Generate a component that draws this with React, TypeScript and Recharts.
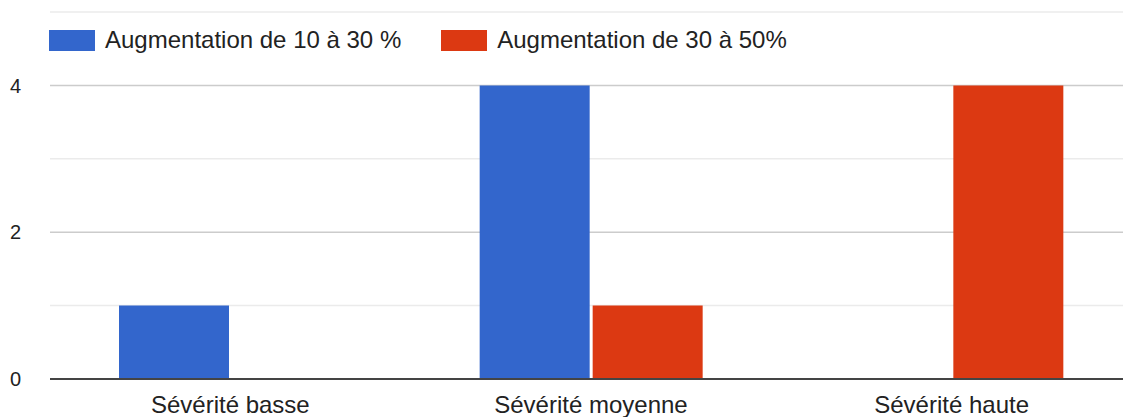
import React from "react";
import { BarChart, Bar, XAxis, YAxis, ReferenceLine, Legend, CartesianGrid } from "recharts";

const categories = ["Sévérité basse", "Sévérité moyenne", "Sévérité haute"];
const low = [1, 4, 0];
const high = [0, 1, 4];
const seriesNames = ["Augmentation de 10 à 30 %", "Augmentation de 30 à 50%"];
const seriesColors = ["#3366cc", "#dc3912"];
const yTicks = [0, 2, 4];
const majorGrid = [2, 4];
const minorGrid = [1, 3, 5];

const data = categories.map((c, i) => ({ name: c, a: low[i], b: high[i] }));

const FONT = "Arial, 'Liberation Sans', sans-serif";

const renderLegend = (props: any) => {
  const { payload } = props;
  return (
    <div style={{ display: "flex", alignItems: "center", fontFamily: FONT, fontSize: 24, color: "#222" }}>
      {payload.map((p: any, i: number) => (
        <div key={i} style={{ display: "flex", alignItems: "center", marginRight: i === 0 ? 40 : 0 }}>
          <div style={{ width: 46, height: 21, background: p.color, marginRight: 10 }} />
          <span style={{ whiteSpace: "nowrap" }}>{p.value}</span>
        </div>
      ))}
    </div>
  );
};

export default function App() {
  return (
    <div style={{ position: "absolute", left: 0, top: 0, width: 1123, height: 417, overflow: "hidden", background: "#fff" }}>
      <BarChart
        width={1140}
        height={417}
        data={data}
        margin={{ top: 12, right: 8, bottom: 0, left: 0 }}
        barGap={3}
        barSize={110}
      >
        <CartesianGrid vertical={false} horizontalValues={minorGrid} stroke="#ebebeb" strokeWidth={1.5} />
        <CartesianGrid vertical={false} horizontalValues={majorGrid} stroke="#cccccc" strokeWidth={1.5} />
        <XAxis
          dataKey="name"
          height={38}
          axisLine={false}
          tickLine={false}
          tickSize={0}
          tickMargin={17}
          tick={{ fill: "#222", fontSize: 24, fontFamily: FONT }}
          interval={0}
        />
        <YAxis
          width={50}
          domain={[0, 5]}
          ticks={yTicks}
          axisLine={false}
          tickLine={false}
          tickSize={0}
          tickMargin={29}
          tick={{ fill: "#222", fontSize: 20, fontFamily: FONT }}
        />
        <Legend
          content={renderLegend}
          layout="horizontal"
          verticalAlign="middle"
          align="center"
          wrapperStyle={{ position: "absolute", top: 26, left: 49, width: "auto" }}
        />
        <Bar dataKey="a" name={seriesNames[0]} fill={seriesColors[0]} isAnimationActive={false} />
        <Bar dataKey="b" name={seriesNames[1]} fill={seriesColors[1]} isAnimationActive={false} />
        <ReferenceLine y={0} stroke="#444" strokeWidth={2} ifOverflow="visible" />
      </BarChart>
    </div>
  );
}
